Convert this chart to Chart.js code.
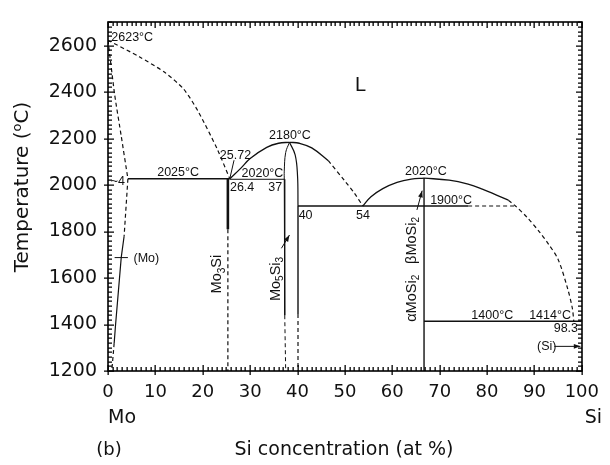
<!DOCTYPE html>
<html>
<head>
<meta charset="utf-8">
<script src="https://cdn.jsdelivr.net/npm/chart.js@4/dist/chart.umd.min.js"></script>
<style>
  html, body { margin: 0; padding: 0; background: #fff; }
</style>
</head>
<body>
<canvas id="chart" width="610" height="465"></canvas>
<script>
// Mo-Si phase diagram, points are [Si at%, temperature C]
var xTicks = [0, 10, 20, 30, 40, 50, 60, 70, 80, 90, 100];
var tempTicks = [1200, 1400, 1600, 1800, 2000, 2200, 2400, 2600];
var xMinorStep = 1, tempMinorStep = 20;

var moLiquidus = [[0, 2623], [6.6, 2552], [12.1, 2483], [16, 2412], [19, 2318], [23.1, 2153], [25.7, 2027]];
var moSolidus = [[0, 2623], [1.4, 2390], [2.8, 2210], [4.2, 2027]];
var moSolvusTop = [[4.2, 2027], [3.4, 1780]];
var moSolvusMid = [[3.4, 1780], [2.8, 1690], [1.6, 1400], [1.3, 1320]];
var moSolvusLow = [[1.3, 1320], [0.8, 1200]];
var eutectic2025 = [[4.2, 2027], [25.7, 2027]];
var eutectic2020 = [[25.7, 2025], [37.2, 2025]];
var mo3SiTop = [[25.3, 2027], [25.3, 1810]];
var mo3SiLow = [[25.3, 1810], [25.3, 1200]];
var liq2180Left = [[25.7, 2027], [28, 2072], [30, 2114], [33.5, 2162], [36, 2180], [38.3, 2184]];
var liq2180Right = [[38.3, 2184], [40.4, 2180], [43, 2160], [46.5, 2105]];
var liq2180Dash = [[46.5, 2105], [50, 2017], [52, 1965], [53.8, 1910]];
var lensLeftCurve = [[38.3, 2184], [37.5, 2140], [37.2, 2060], [37.2, 2025]];
var lensLeftLine = [[37.2, 2025], [37.3, 1440]];
var lensLeftDash = [[37.3, 1440], [37.5, 1200]];
var lensRightCurve = [[38.3, 2184], [39.5, 2130], [40, 2040], [40.1, 1910]];
var lensRightLine = [[40.1, 1910], [40.1, 1445]];
var lensRightDash = [[40.1, 1445], [40.1, 1200]];
var eutectic1900 = [[40.1, 1910], [76, 1910]];
var eutectic1900Dash = [[76, 1910], [86, 1910]];
var moSi2Left = [[53.8, 1910], [55.5, 1950], [58, 1985], [61, 2012], [64, 2026], [66.7, 2030]];
var moSi2Right = [[66.7, 2030], [72, 2021], [76, 2004], [79, 1983], [82, 1957], [84.5, 1935]];
var siLiquidus = [[84.5, 1935], [86, 1910], [88.5, 1860], [91, 1800], [93, 1745], [95, 1680], [97, 1555], [98, 1470], [98.3, 1414]];
var moSi2Line = [[66.7, 2030], [66.7, 1200]];
var eutectic1400 = [[66.7, 1414], [100, 1414]];
var pointer2572 = [[26.6, 2107], [25.7, 2027]];

var ink = '#111';
var small = "12.5px 'Liberation Sans', Arial, sans-serif";

function boundary(points, dashed, width, tension) {
    return {
        data: points.map(function(p) { return {x: p[0], y: p[1]}; }),
        showLine: true,
        borderColor: ink,
        borderWidth: width || 1.2,
        borderDash: dashed ? [4, 3] : [],
        tension: tension || 0,
        pointRadius: 0,
        fill: false
    };
}

var datasets = [
    boundary(moLiquidus, true, 1.2, 0.25),
    boundary(moSolidus, true, 1.2, 0.2),
    boundary(moSolvusTop, true),
    boundary(moSolvusMid, false),
    boundary(moSolvusLow, true),
    boundary(eutectic2025, false, 1.4),
    boundary(eutectic2020, false, 1),
    boundary(mo3SiTop, false, 2.6),
    boundary(mo3SiLow, true, 1.2),
    boundary(liq2180Left, false, 1.3, 0.4),
    boundary(liq2180Right, false, 1.3, 0.4),
    boundary(liq2180Dash, true, 1.2, 0.3),
    boundary(lensLeftCurve, false, 1, 0.4),
    boundary(lensLeftLine, false, 1),
    boundary(lensLeftDash, true, 1),
    boundary(lensRightCurve, false, 1.2, 0.4),
    boundary(lensRightLine, false, 1.4),
    boundary(lensRightDash, true, 1.2),
    boundary(eutectic1900, false, 1.3),
    boundary(eutectic1900Dash, true, 1.2),
    boundary(moSi2Left, false, 1.3, 0.4),
    boundary(moSi2Right, false, 1.3, 0.4),
    boundary(siLiquidus, true, 1.2, 0.3),
    boundary(moSi2Line, false, 1.4),
    boundary(eutectic1400, false, 1.3),
    boundary(pointer2572, false, 1)
];

// text in the plot: [text, Si at%, T, align]
var notes = [
    ['2623°C', 0.7, 2635, 'left'],
    ['2025°C', 14.8, 2054, 'center'],
    ['~4', 3.6, 2014, 'right'],
    ['25.72', 26.9, 2127, 'center'],
    ['2020°C', 32.6, 2050, 'center'],
    ['26.4', 28.3, 1990, 'center'],
    ['37', 35.3, 1990, 'center'],
    ['2180°C', 38.4, 2212, 'center'],
    ['40', 41.7, 1870, 'center'],
    ['54', 53.8, 1871, 'center'],
    ['2020°C', 67.1, 2059, 'center'],
    ['1900°C', 72.4, 1935, 'center'],
    ['1400°C', 81.1, 1438, 'center'],
    ['1414°C', 93.3, 1438, 'center'],
    ['98.3', 99.2, 1382, 'right'],
    ['(Si)', 92.6, 1306, 'center'],
    ['(Mo)', 8.1, 1686, 'center']
];
// rotated phase names, parts: [text, 0 normal / 1 subscript]
var phases = [
    [[['Mo', 0], ['3', 1], ['Si', 0]], 23.1, 1617],
    [[['Mo', 0], ['5', 1], ['Si', 0], ['3', 1]], 35.4, 1596],
    [[['βMoSi', 0], ['2', 1]], 64.2, 1762],
    [[['αMoSi', 0], ['2', 1]], 64.2, 1513]
];
// arrows: [from x, from T, to x, to T, head]
var arrows = [
    [36.6, 1728, 38.3, 1785, true],
    [65.2, 1893, 66.3, 1976, true],
    [94.2, 1306, 99.7, 1306, true],
    [4.2, 1688, 1.4, 1688, false]
];

function drawParts(ctx, parts, size) {
    var w = 0;
    parts.forEach(function(p) {
        ctx.font = (p[1] ? size * 0.7 : size) + "px 'Liberation Sans', Arial, sans-serif";
        w += ctx.measureText(p[0]).width;
    });
    var x = -w / 2;
    parts.forEach(function(p) {
        ctx.font = (p[1] ? size * 0.7 : size) + "px 'Liberation Sans', Arial, sans-serif";
        ctx.textAlign = 'left';
        ctx.textBaseline = 'middle';
        ctx.fillText(p[0], x, p[1] === 1 ? size * 0.3 : 0);
        x += ctx.measureText(p[0]).width;
    });
}

// frame with small ticks pointing into the plot
var frameTicks = {
    id: 'frameTicks',
    afterDatasetsDraw: function(chart) {
        var ctx = chart.ctx, a = chart.chartArea;
        var xs = chart.scales.x, ys = chart.scales.y;
        var left = Math.round(a.left), right = Math.round(a.right);
        var top = Math.round(a.top), bottom = Math.round(a.bottom);
        ctx.save();
        ctx.setLineDash([]);
        ctx.fillStyle = '#000';
        ctx.strokeStyle = '#000';
        ctx.lineWidth = 1.6;
        ctx.strokeRect(left, top, right - left, bottom - top);
        ctx.beginPath();
        var n, px, big;
        for (n = 0; n <= 100; n++) {
            px = Math.round(xs.getPixelForValue(n * xMinorStep));
            big = n % 10 === 0;
            ctx.rect(px - 0.5, bottom - (big ? 6 : 4), 1.3, big ? 10 : 4);
            ctx.rect(px - 0.5, top, 1.3, big ? 6 : 4);
        }
        for (n = 0; n <= 75; n++) {
            px = Math.round(ys.getPixelForValue(1200 + n * tempMinorStep));
            big = n % 10 === 0;
            ctx.rect(left - (big ? 4 : 0), px - 0.5, big ? 10 : 4, 1.3);
            ctx.rect(right - (big ? 6 : 4), px - 0.5, big ? 6 : 4, 1.3);
        }
        ctx.fill();
        ctx.restore();
    }
};

var decorations = {
    id: 'decorations',
    afterDraw: function(chart) {
        var ctx = chart.ctx, a = chart.chartArea;
        var xs = chart.scales.x, ys = chart.scales.y;
        ctx.save();
        ctx.setLineDash([]);
        ctx.strokeStyle = ink;
        ctx.fillStyle = ink;

        // arrows
        arrows.forEach(function(r) {
            var x1 = xs.getPixelForValue(r[0]), y1 = ys.getPixelForValue(r[1]);
            var x2 = xs.getPixelForValue(r[2]), y2 = ys.getPixelForValue(r[3]);
            ctx.lineWidth = 1;
            ctx.beginPath();
            ctx.moveTo(x1, y1);
            ctx.lineTo(x2, y2);
            ctx.stroke();
            if (r[4]) {
                var ang = Math.atan2(y2 - y1, x2 - x1);
                ctx.beginPath();
                ctx.moveTo(x2, y2);
                ctx.lineTo(x2 - 7 * Math.cos(ang - 0.35), y2 - 7 * Math.sin(ang - 0.35));
                ctx.lineTo(x2 - 7 * Math.cos(ang + 0.35), y2 - 7 * Math.sin(ang + 0.35));
                ctx.closePath();
                ctx.fill();
            }
        });

        // notes in the plot
        ctx.font = small;
        ctx.textBaseline = 'middle';
        notes.forEach(function(n) {
            ctx.textAlign = n[3];
            ctx.fillText(n[0], xs.getPixelForValue(n[1]), ys.getPixelForValue(n[2]));
        });
        ctx.font = "20px 'Liberation Sans', Arial, sans-serif";
        ctx.textAlign = 'center';
        ctx.fillText('L', xs.getPixelForValue(53.3), ys.getPixelForValue(2428));

        phases.forEach(function(ph) {
            ctx.save();
            ctx.translate(xs.getPixelForValue(ph[1]), ys.getPixelForValue(ph[2]));
            ctx.rotate(-Math.PI / 2);
            drawParts(ctx, ph[0], 14.5);
            ctx.restore();
        });

        // outer labels
        ctx.font = "19px 'DejaVu Sans', sans-serif";
        ctx.textBaseline = 'middle';
        ctx.textAlign = 'left';
        ctx.fillText('Mo', a.left, 418);
        ctx.textAlign = 'right';
        ctx.fillText('Si', 602, 418);
        ctx.textAlign = 'center';
        ctx.font = "18px 'DejaVu Sans', sans-serif";
        ctx.fillText('(b)', 109, 450);
        ctx.font = "19px 'DejaVu Sans', sans-serif";
        ctx.fillText('Si concentration (at %)', 344, 450);

        ctx.save();
        ctx.translate(23, 187);
        ctx.rotate(-Math.PI / 2);
        var t1 = 'Temperature (', t2 = 'o', t3 = 'C)';
        ctx.font = "20px 'DejaVu Sans', sans-serif";
        var w1 = ctx.measureText(t1).width, w3 = ctx.measureText(t3).width;
        ctx.font = "13px 'DejaVu Sans', sans-serif";
        var w2 = ctx.measureText(t2).width;
        var x0 = -(w1 + w2 + w3) / 2;
        ctx.textAlign = 'left';
        ctx.font = "20px 'DejaVu Sans', sans-serif";
        ctx.fillText(t1, x0, 0);
        ctx.font = "13px 'DejaVu Sans', sans-serif";
        ctx.fillText(t2, x0 + w1, -5);
        ctx.font = "20px 'DejaVu Sans', sans-serif";
        ctx.fillText(t3, x0 + w1 + w2, 0);
        ctx.restore();

        ctx.restore();
    }
};

new Chart(document.getElementById('chart').getContext('2d'), {
    type: 'scatter',
    data: { datasets: datasets },
    options: {
        responsive: false,
        animation: false,
        devicePixelRatio: 1,
        layout: { padding: { top: 9, right: 19, left: 0, bottom: 0 } },
        plugins: { legend: { display: false }, tooltip: { enabled: false } },
        scales: {
            x: {
                type: 'linear', min: 0, max: 100,
                afterFit: function(s) { s.height = 94; },
                afterBuildTicks: function(s) { s.ticks = xTicks.map(function(v) { return {value: v}; }); },
                grid: { display: false, drawTicks: false },
                border: { display: false },
                ticks: { color: ink, padding: 11, maxRotation: 0,
                         callback: function(v) { return String(v); },
                         font: { family: 'DejaVu Sans', size: 18 } }
            },
            y: {
                type: 'linear', min: 1200, max: 2700,
                afterFit: function(s) { s.width = 108; },
                afterBuildTicks: function(s) { s.ticks = tempTicks.map(function(v) { return {value: v}; }); },
                grid: { display: false, drawTicks: false },
                border: { display: false },
                ticks: { color: ink, padding: 11,
                         callback: function(v) { return String(v); },
                         font: { family: 'DejaVu Sans', size: 19 } }
            }
        }
    },
    plugins: [frameTicks, decorations]
});
</script>
</body>
</html>
